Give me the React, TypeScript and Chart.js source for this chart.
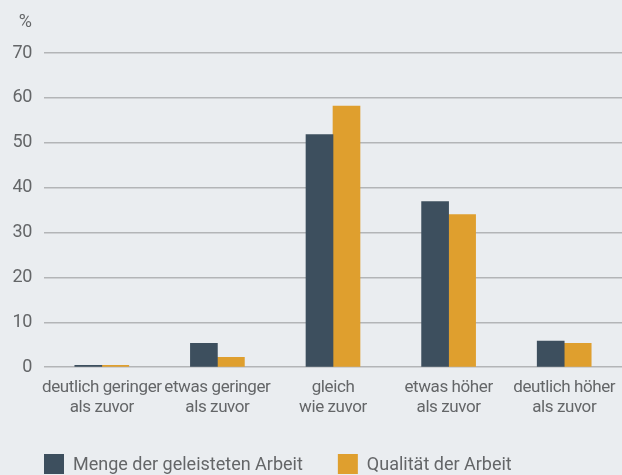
import React, { useEffect, useRef } from "react";
import { Chart, registerables } from "chart.js";

Chart.register(...registerables);

const categories: string[][] = [
  ["deutlich geringer", "als zuvor"],
  ["etwas geringer", "als zuvor"],
  ["gleich", "wie zuvor"],
  ["etwas höher", "als zuvor"],
  ["deutlich höher", "als zuvor"],
];
const seriesNames = ["Menge der geleisteten Arbeit", "Qualität der Arbeit"];
const mengeValues = [0.4, 5.3, 51.8, 36.9, 5.8];
const qualitaetValues = [0.4, 2.2, 58.2, 34.0, 5.3];
const yTicks = [0, 10, 20, 30, 40, 50, 60, 70];
const unitLabel = "%";

const FONT = "Roboto, 'Liberation Sans', sans-serif";
const TEXT = "#646668";
const COLORS = ["#3d4f5e", "#df9f2e"];

export default function App() {
  const ref = useRef<HTMLCanvasElement | null>(null);
  useEffect(() => {
    document.body.style.margin = "0";
    document.body.style.background = "#eaedf0";
    const canvas = ref.current!;
    const extras = {
      id: "extras",
      beforeDraw(chart: any) {
        (chart.ctx as any).letterSpacing = "-0.4px";
      },
      afterDraw(chart: any) {
        const ctx = chart.ctx;
        ctx.save();
        (ctx as any).letterSpacing = "0px";
        ctx.font = `18px ${FONT}`;
        ctx.fillStyle = TEXT;
        ctx.textBaseline = "middle";
        // unit label
        ctx.textAlign = "right";
        ctx.fillText(unitLabel, 32, 22);
        // legend
        ctx.textAlign = "left";
        let x = 44;
        chart.data.datasets.forEach((ds: any) => {
          ctx.fillStyle = ds.backgroundColor;
          ctx.fillRect(x, 454, 20, 20);
          ctx.fillStyle = TEXT;
          ctx.fillText(ds.label, x + 29, 465);
          x += 29 + ctx.measureText(ds.label).width + 35;
        });
        ctx.restore();
        (ctx as any).letterSpacing = "0px";
      },
    };
    const chart = new Chart(canvas, {
      type: "bar",
      data: {
        labels: categories,
        datasets: [
          { label: seriesNames[0], data: mengeValues, backgroundColor: COLORS[0], barThickness: 27 },
          { label: seriesNames[1], data: qualitaetValues, backgroundColor: COLORS[1], barThickness: 27 },
        ],
      },
      options: {
        animation: false,
        responsive: false,
        maintainAspectRatio: false,
        layout: { padding: { top: 53, bottom: 55, left: 0, right: 0 } },
        plugins: { legend: { display: false }, tooltip: { enabled: false } },
        scales: {
          x: {
            grid: { display: false },
            border: { display: false },
            afterFit: (s: any) => {
              s.paddingLeft = 0;
              s.paddingRight = 0;
            },
            ticks: {
              color: TEXT,
              font: { family: FONT, size: 17, lineHeight: 1.2 },
              padding: 2,
              maxRotation: 0,
              autoSkip: false,
            },
          },
          y: {
            min: 0,
            max: 70,
            afterFit: (s: any) => {
              s.width = 44;
            },
            afterBuildTicks: (s: any) => {
              s.ticks = yTicks.map((v) => ({ value: v }));
            },
            grid: { color: "#b3b5b7", lineWidth: 1.5, drawTicks: false },
            border: { display: false },
            ticks: {
              color: TEXT,
              font: { family: FONT, size: 18 },
              padding: 12,
            },
          },
        },
      },
      plugins: [extras],
    });
    return () => chart.destroy();
  }, []);
  return (
    <div style={{ width: 622, height: 475, background: "#eaedf0" }}>
      <canvas ref={ref} width={622} height={475} style={{ display: "block" }} />
    </div>
  );
}
